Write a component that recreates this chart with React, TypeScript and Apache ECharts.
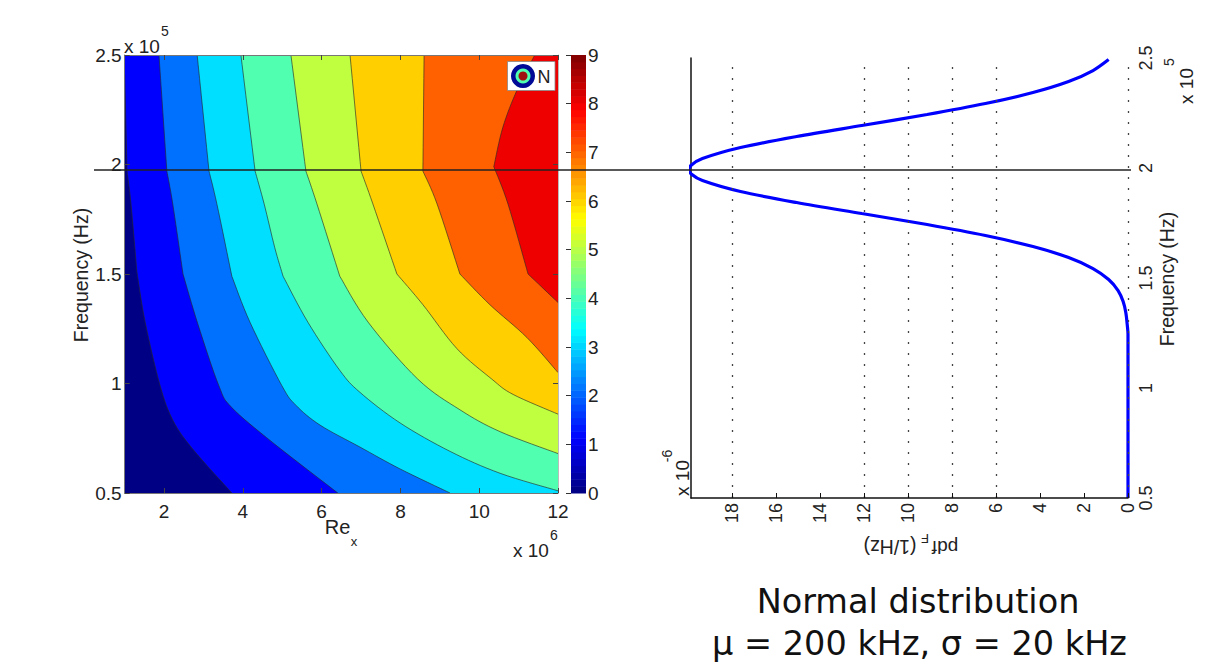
import React, { useEffect, useRef } from "react";
import * as echarts from "echarts";

const reTicks = [2, 4, 6, 8, 10, 12];
const freqTicks = [0.5, 1, 1.5, 2, 2.5];
const pdfTicks = [0, 2, 4, 6, 8, 10, 12, 14, 16, 18];
const pdfGridValues = [0, 6, 8, 10, 12, 18];
const bandColors = ["#000085", "#0000ff", "#0070ff", "#00dfff", "#50ffaf", "#bfff40", "#ffcf00", "#ff6000", "#ef0000"];

// Contour lines of N, levels 1..8: [Re (x 1e6), frequency (x 1e5)]
const contour1 = [[1, 2.41], [1.06, 1.97], [1.16, 1.82], [1.31, 1.51], [1.52, 1.28], [1.9, 0.99], [2.23, 0.83], [2.73, 0.7], [3.72, 0.5]];
const contour2 = [[1.87, 2.5], [2.07, 1.97], [2.22, 1.82], [2.48, 1.5], [2.86, 1.27], [3.39, 0.99], [3.72, 0.89], [4.76, 0.73], [6.41, 0.5]];
const contour3 = [[2.84, 2.5], [3.14, 1.97], [3.34, 1.82], [3.72, 1.49], [4.18, 1.28], [4.99, 0.99], [5.35, 0.9], [5.96, 0.81], [6.97, 0.71], [7.99, 0.61], [9.26, 0.5]];
const contour4 = [[3.95, 2.5], [4.31, 1.97], [4.54, 1.82], [4.81, 1.62], [5.02, 1.49], [5.65, 1.28], [6.46, 1.06], [6.97, 0.96], [7.99, 0.82], [9.26, 0.69], [10.53, 0.59], [12, 0.51]];
const contour5 = [[5.22, 2.5], [5.6, 1.97], [5.88, 1.82], [6.46, 1.49], [7.18, 1.28], [8.44, 1.02], [9.51, 0.88], [10.53, 0.78], [12, 0.68]];
const contour6 = [[6.72, 2.5], [7.0, 1.97], [7.3, 1.82], [7.91, 1.5], [8.57, 1.36], [9.43, 1.16], [10.32, 1.02], [10.86, 0.95], [12, 0.86]];
const contour7 = [[8.6, 2.5], [8.57, 1.97], [8.93, 1.82], [9.51, 1.5], [10.27, 1.36], [11.21, 1.21], [12, 1.05]];
const contour8 = [[11.41, 2.5], [10.96, 2.34], [10.6, 2.17], [10.37, 1.99], [10.73, 1.82], [11.24, 1.5], [12, 1.37]];
const contours = [contour1, contour2, contour3, contour4, contour5, contour6, contour7, contour8];

// Right panel: pdf (x 1e-6) against frequency (x 1e5)
const curveFreq = [0.5, 1.0, 1.243, 1.293, 1.343, 1.393, 1.443, 1.493, 1.543, 1.593, 1.643, 1.693, 1.743, 1.793, 1.843, 1.893, 1.943, 1.973, 1.993, 2.013, 2.043, 2.093, 2.143, 2.193, 2.243, 2.293, 2.343, 2.393, 2.443, 2.493];
const curvePdf = [0, 0, 0, 0.04, 0.1, 0.22, 0.45, 0.88, 1.59, 2.7, 4.32, 6.48, 9.13, 12.1, 15.06, 17.61, 19.34, 19.85, 19.95, 19.85, 19.34, 17.61, 15.06, 12.1, 9.13, 6.48, 4.32, 2.7, 1.59, 0.88];

const FONT = "Liberation Sans";
const INK = "#222222";

function jet(t: number) {
  const c = (v: number) => Math.round(255 * Math.max(0, Math.min(1, v)));
  const r = c(Math.min(4 * t - 1.5, -4 * t + 4.5));
  const g = c(Math.min(4 * t - 0.5, -4 * t + 3.5));
  const b = c(Math.min(4 * t + 0.5, -4 * t + 2.5));
  return `rgb(${r},${g},${b})`;
}

// The frequency grid behind the contours is coarse, so the lines kink where they cross these rows.
function isKink(f: number) {
  return (f >= 1.96 && f <= 2.0) || (f >= 1.48 && f <= 1.51);
}

// Draws a contour as a spline through its read points, keeping the kinks sharp.
function splinePixels(line: number[][], api: any) {
  const px = line.map((p) => api.coord(p));
  const out: number[][] = [px[0]];
  for (let i = 0; i < px.length - 1; i++) {
    const p1 = px[i];
    const p2 = px[i + 1];
    const p0 = i > 0 && !isKink(line[i][1]) ? px[i - 1] : p1;
    const p3 = i + 2 < px.length && !isKink(line[i + 1][1]) ? px[i + 2] : p2;
    for (let s = 1; s <= 8; s++) {
      const t = s / 8;
      const t2 = t * t;
      const t3 = t2 * t;
      out.push([0, 1].map((d) =>
        0.5 * (2 * p1[d] + (p2[d] - p0[d]) * t + (2 * p0[d] - 5 * p1[d] + 4 * p2[d] - p3[d]) * t2 + (3 * p1[d] - p0[d] - 3 * p2[d] + p3[d]) * t3)
      ));
    }
  }
  return out;
}

function label(text: string, x: number, y: number, size: number, rotation = 0, align = "center", family = FONT, fill = INK) {
  return {
    type: "text", x, y, rotation, z: 100, silent: true,
    style: { text, fontSize: size, fontFamily: family, fill, align, verticalAlign: "middle" },
  };
}

export default function App() {
  const ref = useRef<HTMLDivElement>(null);
  useEffect(() => {
    document.body.style.margin = "0";
    const chart = echarts.init(ref.current!, null, { renderer: "svg" });

    const bandData = bandColors.map((_, i) => [i]);
    const cellCount = 64;
    const cellData = Array.from({ length: cellCount }, (_, i) => [i]);
    const R90 = Math.PI / 2;

    const plainAxis = {
      axisLabel: { show: false }, axisTick: { show: false }, axisLine: { show: false }, splitLine: { show: false },
    };

    chart.setOption({
      animation: false,
      backgroundColor: "#ffffff",
      grid: [
        { left: 124.7, top: 55, width: 433.3, height: 438 },
        { left: 571, top: 55, width: 15, height: 438 },
        { left: 691, top: 58, width: 437, height: 440 },
      ],
      xAxis: [
        {
          gridIndex: 0, type: "value", min: 1, max: 12, z: 5, splitLine: { show: false },
          axisLine: { lineStyle: { color: "#777777", width: 1 } },
          axisTick: { inside: true, length: 5, lineStyle: { color: "#444444" }, customValues: reTicks },
          axisLabel: { customValues: reTicks, fontFamily: FONT, fontSize: 19, color: INK, margin: 9 },
        },
        {
          gridIndex: 0, type: "value", position: "top", min: 1, max: 12, z: 5, splitLine: { show: false },
          axisLine: { lineStyle: { color: "#777777", width: 1 } },
          axisTick: { inside: true, length: 5, lineStyle: { color: "#444444" }, customValues: reTicks },
          axisLabel: { show: false },
        },
        { gridIndex: 1, type: "value", min: 0, max: 1, ...plainAxis },
        {
          gridIndex: 2, type: "value", min: 0, max: 19.86, inverse: true, z: 5, splitLine: { show: false },
          axisLine: { lineStyle: { color: "#111111", width: 1.5 } },
          axisTick: { inside: true, length: 5, lineStyle: { color: "#111111" }, customValues: pdfTicks },
          axisLabel: { customValues: pdfTicks, rotate: 90, fontFamily: FONT, fontSize: 18, color: INK, margin: 5 },
        },
      ],
      yAxis: [
        {
          gridIndex: 0, type: "value", min: 0.5, max: 2.5, interval: 0.5, z: 5, splitLine: { show: false },
          axisLine: { lineStyle: { color: "#777777", width: 1 } },
          axisTick: { inside: true, length: 5, lineStyle: { color: "#444444" } },
          axisLabel: { customValues: freqTicks, fontFamily: FONT, fontSize: 19, color: INK, margin: 3 },
        },
        {
          gridIndex: 0, type: "value", position: "right", min: 0.5, max: 2.5, interval: 0.5, z: 5, splitLine: { show: false },
          axisLine: { lineStyle: { color: "#bbbbbb", width: 1 } },
          axisTick: { inside: true, length: 5, lineStyle: { color: "#444444" } },
          axisLabel: { show: false },
        },
        {
          gridIndex: 1, type: "value", position: "right", min: 0, max: 9, interval: 1, z: 5, splitLine: { show: false },
          axisLine: { show: false },
          axisTick: { show: true, inside: true, length: 5, lineStyle: { color: "#333333" } },
          axisLabel: { fontFamily: FONT, fontSize: 19, color: INK, margin: 2 },
        },
        {
          gridIndex: 2, type: "value", position: "right", min: 0.5, max: 2.5, interval: 0.5, splitLine: { show: false },
          axisLine: { show: false }, axisTick: { show: false },
          axisLabel: { customValues: freqTicks, rotate: 90, fontFamily: FONT, fontSize: 18, color: INK, margin: 9 },
        },
        {
          gridIndex: 2, type: "value", position: "left", min: 0.5, max: 2.5, interval: 0.5, splitLine: { show: false },
          axisLine: { show: true, lineStyle: { color: "#111111", width: 1.5 } }, axisTick: { show: false },
          axisLabel: { show: false },
        },
      ],
      series: [
        {
          type: "custom", xAxisIndex: 0, yAxisIndex: 0, clip: true, data: bandData, silent: true,
          renderItem: (params: any, api: any) => {
            const k = params.dataIndex;
            const fill = bandColors[k];
            if (k === 0) {
              const corners = [[1, 0.5], [12, 0.5], [12, 2.5], [1, 2.5]].map((p) => api.coord(p));
              return { type: "polygon", shape: { points: corners }, style: { fill } };
            }
            const line = contours[k - 1];
            const last = line[line.length - 1];
            const closure: number[][] = [];
            if (last[1] === 0.5) closure.push([12, 0.5]);
            closure.push([12, 2.5]);
            if (line[0][0] === 1) closure.push([1, 2.5]);
            const pts = splinePixels(line, api);
            return {
              type: "group",
              children: [
                { type: "polygon", shape: { points: [...pts, ...closure.map((p) => api.coord(p))] }, style: { fill } },
                { type: "polyline", shape: { points: pts }, style: { stroke: "rgba(40,40,40,0.7)", lineWidth: 0.9, fill: "none" } },
              ],
            };
          },
        },
        {
          type: "custom", xAxisIndex: 2, yAxisIndex: 2, data: cellData, silent: true,
          renderItem: (params: any, api: any) => {
            const i = params.dataIndex;
            const a = api.coord([0, (i * 9) / cellCount]);
            const b = api.coord([1, ((i + 1) * 9) / cellCount]);
            return {
              type: "rect",
              shape: { x: a[0], y: b[1], width: b[0] - a[0], height: a[1] - b[1] + 0.5 },
              style: { fill: jet((i + 0.5) / cellCount) },
            };
          },
        },
        {
          type: "line", xAxisIndex: 3, yAxisIndex: 3, symbol: "none", smooth: 0.3, silent: true,
          lineStyle: { color: "#0000ff", width: 3.2 },
          data: curveFreq.map((f, i) => [curvePdf[i], f]),
          markLine: {
            silent: true, symbol: "none", label: { show: false },
            lineStyle: { color: "#444444", width: 1.3, type: [2, 9] },
            data: pdfGridValues.map((v) => ({ xAxis: v })),
          },
        },
      ],
      graphic: [
        // Overlaid reference line across both panels
        { type: "line", z: 90, silent: true, shape: { x1: 94, y1: 170, x2: 1131, y2: 170 }, style: { stroke: "#222222", lineWidth: 1.5 } },

        // Left panel annotations
        label("x 10", 124, 46, 19, 0, "left"),
        label("5", 165, 31, 14),
        label("x 10", 513, 550, 19, 0, "left"),
        label("6", 554, 535, 14),
        label("Re", 337.5, 527, 20),
        label("x", 354, 541, 13),
        label("Frequency (Hz)", 81, 275, 19.5, R90),

        // Legend
        { type: "rect", z: 95, silent: true, shape: { x: 507.5, y: 61.5, width: 47.5, height: 29 }, style: { fill: "#ffffff", stroke: "#888888", lineWidth: 0.8 } },
        { type: "circle", z: 96, silent: true, shape: { cx: 523, cy: 76, r: 12 }, style: { fill: "#000a96" } },
        { type: "circle", z: 97, silent: true, shape: { cx: 523, cy: 76, r: 7.5 }, style: { fill: "#50ffaf" } },
        { type: "circle", z: 98, silent: true, shape: { cx: 523, cy: 76, r: 4.5 }, style: { fill: "#a01010" } },
        label("N", 544, 77, 18),

        // Right panel annotations
        label("Frequency (Hz)", 1167, 279, 19.5, R90),
        label("x 10", 1186, 86, 19, R90),
        label("5", 1169, 62, 14, R90),
        label("x 10", 682, 478, 19, R90),
        label("-6", 667, 456, 14, R90),
        label("pdf", 945, 547, 19, Math.PI),
        label("F", 925, 538, 13, Math.PI),
        label("(1/Hz)", 890, 547, 19.5, Math.PI),

        // Caption
        label("Normal distribution", 918, 601, 33.5, 0, "center", "DejaVu Sans", "#111111"),
        label("\u03bc = 200 kHz, \u03c3 = 20 kHz", 919.5, 643, 33.5, 0, "center", "DejaVu Sans", "#111111"),
      ],
    });
    return () => chart.dispose();
  }, []);
  return <div ref={ref} style={{ position: "fixed", left: 0, top: 0, width: 1227, height: 667 }} />;
}
